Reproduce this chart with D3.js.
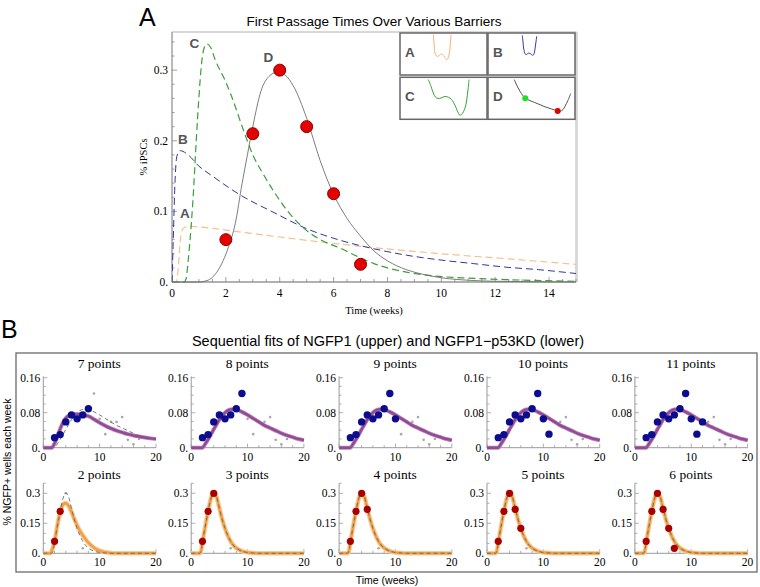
<!DOCTYPE html>
<html><head><meta charset="utf-8">
<script src="https://cdn.jsdelivr.net/npm/d3@7"></script>
<style>body{margin:0;background:#fff} svg{display:block}</style>
</head><body><svg id="c" width="760" height="587"></svg>
<script>
// ---------- Panel A data: first passage time densities [week, fraction] ----------
const curveA = [[0,0],[0.15,0],[0.22,0.015],[0.28,0.045],[0.33,0.066],[0.42,0.076],[0.6,0.079],[1.0,0.078],[2.5,0.071],[5,0.059],[7.5,0.0486],[10,0.040],[12.4,0.033],[15,0.025]];
const curveB = [[0,0],[0.04,0.05],[0.1,0.13],[0.18,0.178],[0.3,0.186],[0.6,0.18],[1.0,0.164],[1.5,0.15],[2.5,0.124],[3.75,0.099],[5,0.0755],[6.25,0.059],[7.5,0.047],[8.7,0.038],[10,0.031],[11.2,0.026],[12.4,0.021],[13.6,0.0175],[15,0.012]];
const curveC = [[0,0],[0.45,0],[0.52,0.004],[0.6,0.03],[0.68,0.064],[0.8,0.13],[0.9,0.2],[1.0,0.262],[1.1,0.31],[1.2,0.332],[1.3,0.337],[1.45,0.331],[1.6,0.315],[2.0,0.283],[2.2,0.264],[2.7,0.21],[3.0,0.18],[3.4,0.152],[3.8,0.127],[4.3,0.1],[4.9,0.076],[5.5,0.06],[6.3,0.047],[7.0,0.034],[7.5,0.026],[8.0,0.02],[8.7,0.014],[9.9,0.008],[11,0.0055],[12.4,0.0034],[15,0.001]];
const curveD = [[0,0],[1.0,0],[1.3,0.002],[1.7,0.016],[2.1,0.05],[2.35,0.083],[2.6,0.139],[2.8,0.18],[3.0,0.22],[3.3,0.27],[3.6,0.291],[3.9,0.297],[4.2,0.293],[4.5,0.278],[5.0,0.232],[5.5,0.172],[6.0,0.124],[6.5,0.09],[7.0,0.065],[7.5,0.044],[8.0,0.03],[8.7,0.0175],[9.3,0.011],[10,0.006],[11,0.0025],[12,0.001],[15,0]];
const redWeeks = [2,3,4,5,6,7];
const redValues = [0.06,0.21,0.30,0.22,0.125,0.025];
const xTicksA = [0,2,4,6,8,10,12,14];
const yTicksA = [0,0.1,0.2,0.3];
const yTickLabelsA = ["0.","0.1","0.2","0.3"];
const curveLabels = ["A","B","C","D"];
const curveLabelPos = [[0.3,0.090],[0.22,0.196],[0.65,0.332],[3.4,0.312]];

// inset potential sketches: [position, energy] in box units (87 x 42)
const insetA = [[33.3,40.3],[34.2,30],[35,22],[36.3,19.2],[37.7,18.7],[39.7,19.8],[41.7,21],[43.8,19.2],[45.4,16.4],[46.7,15.3],[48,16.8],[49.2,21],[50,27],[50.6,34],[51,40.3]];
const insetB = [[34.3,39.7],[35,33],[35.6,27],[36.3,23.7],[37.2,21],[38.2,20.3],[39.5,21.3],[41,22],[42.8,21],[44.3,19.8],[45.5,20.2],[46.5,23],[47.4,29],[48.1,34],[48.7,38.7]];
const insetC = [[28.3,39.7],[31,33],[33.3,26.3],[35.5,22.2],[38,20.8],[41,21.3],[45,22.8],[48.5,22],[51.7,19.7],[55,14],[58,7],[60,4],[62.5,6],[64.5,10],[66,15],[67.3,24],[68.3,32],[69,39.7]];
const insetD = [[26.3,39.7],[29,33.5],[32,28],[35,23.5],[37.3,21],[43,18.3],[50.3,15.3],[57,12.5],[63.7,10.3],[69.7,8.3],[72,8],[75,9.7],[77,13],[80,19],[82.7,25.7]];
const insetDots = [[37.3,21],[69.7,8.3]];

// ---------- Panel B data ----------
const weeksNGFP1 = [2,3,4,5,6,7,8,9,10,11,12,13,14,15,16,17];
const valuesNGFP1 = [0.023,0.030,0.059,0.075,0.066,0.075,0.089,0.124,0.066,0.031,0.059,0.059,0.070,0.018,0.008,0.020];
const weeksP53 = [2,3,4,5,6,7];
const valuesP53 = [0.06,0.21,0.30,0.22,0.125,0.025];
const countsUpper = [7,8,9,10,11];
const countsLower = [2,3,4,5,6];
const fitNGFP1Full = [[0,0],[2,0],[2.5,0.009],[3,0.019],[3.5,0.03],[4,0.042],[4.5,0.053],[5,0.064],[5.5,0.073],[6,0.080],[6.5,0.085],[7,0.0875],[7.5,0.088],[8,0.0872],[9,0.082],[10,0.075],[11,0.067],[12,0.059],[13,0.051],[14,0.045],[15,0.039],[16,0.033],[17,0.028],[18,0.024],[19,0.02],[20,0.017]];
const fitNGFP1Seven = [[0,0],[1.5,0],[2,0.01],[2.5,0.026],[3,0.043],[3.5,0.058],[4,0.068],[4.5,0.073],[5,0.0755],[6,0.0768],[7,0.0755],[8,0.072],[9,0.065],[10,0.057],[11,0.05],[12,0.044],[13,0.039],[14,0.035],[15,0.031],[16,0.028],[17,0.0255],[18,0.0233],[19,0.0213],[20,0.0197]];
const fitP53Full = [[0,0],[1.5,0],[1.8,0.018],[2,0.055],[2.5,0.135],[3,0.21],[3.5,0.275],[4,0.302],[4.5,0.282],[5,0.225],[5.5,0.17],[6,0.125],[6.5,0.088],[7,0.06],[7.5,0.04],[8,0.026],[9,0.011],[10,0.004],[11,0.0015],[12,0],[20,0]];
const fitP53Two = [[0,0],[1.2,0],[1.6,0.02],[2,0.06],[2.5,0.14],[3,0.207],[3.5,0.243],[3.9,0.251],[4.5,0.237],[5,0.207],[5.5,0.172],[6,0.14],[6.5,0.112],[7,0.09],[7.5,0.07],[8,0.053],[9,0.028],[10,0.013],[11,0.005],[12,0.0015],[13,0],[20,0]];
const xTicksB = [0,10,20];
const yTicksUpper = [0,0.08,0.16];
const yLabelsUpper = ["0.","0.08","0.16"];
const yTicksLower = [0,0.15,0.3];
const yLabelsLower = ["0.","0.15","0.3"];

const svg = d3.select('#c');
const serif = '"Liberation Serif","Times New Roman",serif';
const sans = '"Liberation Sans",Arial,Helvetica,sans-serif';
const line = (sx, sy, c) => d3.line().x(d=>sx(d[0])).y(d=>sy(d[1])).curve(c || d3.curveMonotoneX);

// ================= PANEL A =================
svg.append('text').attr('x',139).attr('y',26).attr('font-family',sans).attr('font-size',25).text('A');
svg.append('text').attr('x',374).attr('y',26).attr('text-anchor','middle').attr('font-family',sans).attr('font-size',13.5).text('First Passage Times Over Various Barriers');

const xA = d3.scaleLinear().domain([0,15]).range([172,576]);
const yA = d3.scaleLinear().domain([0,0.354]).range([282,32]);
const gA = svg.append('g');
gA.append('rect').attr('x',xA(0)).attr('y',yA(0.354)).attr('width',xA(15)-xA(0)).attr('height',yA(0)-yA(0.354)).attr('fill','none').attr('stroke','#b4b4b4').attr('stroke-width',1);
gA.append('line').attr('x1',xA(15)+1).attr('x2',xA(15)+1).attr('y1',yA(0.354)).attr('y2',yA(0)).attr('stroke','#d8d8d8').attr('stroke-width',2);
// axes
gA.append('line').attr('x1',xA(0)).attr('x2',xA(15)).attr('y1',yA(0)).attr('y2',yA(0)).attr('stroke','#888');
gA.append('line').attr('x1',xA(0)).attr('x2',xA(0)).attr('y1',yA(0)).attr('y2',yA(0.354)).attr('stroke','#999');
d3.range(0,15.01,0.5).forEach(t=>{
  const major = xTicksA.includes(t);
  gA.append('line').attr('x1',xA(t)).attr('x2',xA(t)).attr('y1',yA(0)).attr('y2',yA(0)-(major?5:3)).attr('stroke','#888').attr('stroke-width',0.8);
});
d3.range(0,0.351,0.02).forEach(v=>{
  const major = yTicksA.some(m=>Math.abs(m-v)<1e-6);
  gA.append('line').attr('x1',xA(0)).attr('x2',xA(0)+(major?5:2.5)).attr('y1',yA(v)).attr('y2',yA(v)).attr('stroke','#888').attr('stroke-width',0.8);
});
xTicksA.forEach(t=>gA.append('text').attr('x',xA(t)).attr('y',yA(0)+15).attr('text-anchor','middle').attr('font-family',serif).attr('font-size',11.5).text(t));
yTicksA.forEach((v,i)=>gA.append('text').attr('x',xA(0)-4).attr('y',yA(v)+4).attr('text-anchor','end').attr('font-family',serif).attr('font-size',11.5).text(yTickLabelsA[i]));
svg.append('text').attr('x',374).attr('y',314).attr('text-anchor','middle').attr('font-family',serif).attr('font-size',10.5).text('Time (weeks)');
svg.append('text').attr('transform','translate(147,157) rotate(-90)').attr('text-anchor','middle').attr('font-family',serif).attr('font-size',10.5).text('% iPSCs');

// curves
const clipA = svg.append('clipPath').attr('id','clipA').append('rect').attr('x',xA(0)).attr('y',yA(0.354)).attr('width',xA(15)-xA(0)).attr('height',yA(0)-yA(0.354)+1);
const cg = gA.append('g').attr('clip-path','url(#clipA)');
cg.append('path').attr('d',line(xA,yA)(curveA)).attr('fill','none').attr('stroke','#f5c08c').attr('stroke-width',1.2).attr('stroke-dasharray','7,4');
cg.append('path').attr('d',line(xA,yA)(curveB)).attr('fill','none').attr('stroke','#35359a').attr('stroke-width',1).attr('stroke-dasharray','7,4');
cg.append('path').attr('d',line(xA,yA)(curveC)).attr('fill','none').attr('stroke','#3a9e3a').attr('stroke-width',1.2).attr('stroke-dasharray','7,4');
cg.append('path').attr('d',line(xA,yA)(curveD)).attr('fill','none').attr('stroke','#6e6e6e').attr('stroke-width',0.9);
redWeeks.forEach((w,i)=>gA.append('circle').attr('cx',xA(w)).attr('cy',yA(redValues[i])).attr('r',6).attr('fill','#e60000').attr('stroke','#8a0000').attr('stroke-width',1));
curveLabels.forEach((l,i)=>gA.append('text').attr('x',xA(curveLabelPos[i][0])).attr('y',yA(curveLabelPos[i][1])).attr('font-family',sans).attr('font-weight','bold').attr('font-size',13.5).attr('fill','#555').text(l));

// insets
const insetBoxes = [
  {x:400,y:33,label:'A',data:insetA,color:'#f2b27a'},
  {x:488,y:33,label:'B',data:insetB,color:'#3a3aa0'},
  {x:400,y:77.3,label:'C',data:insetC,color:'#3aa03a'},
  {x:488,y:77.3,label:'D',data:insetD,color:'#555'}
];
insetBoxes.forEach(b=>{
  const g = svg.append('g');
  g.append('rect').attr('x',b.x).attr('y',b.y).attr('width',87).attr('height',42).attr('fill','#fff').attr('stroke','#666').attr('stroke-width',1.5);
  g.append('text').attr('x',b.x+5).attr('y',b.y+23.5).attr('font-family',sans).attr('font-weight','bold').attr('font-size',13.5).attr('fill','#555').text(b.label);
  const sx = d3.scaleLinear().domain([0,87]).range([b.x,b.x+87]);
  const sy = d3.scaleLinear().domain([0,42]).range([b.y+42,b.y]);
  g.append('path').attr('d',line(sx,sy,d3.curveCatmullRom)(b.data)).attr('fill','none').attr('stroke',b.color).attr('stroke-width',1);
  if(b.label==='D'){
    g.append('circle').attr('cx',sx(insetDots[0][0])).attr('cy',sy(insetDots[0][1])).attr('r',3).attr('fill','#22dd22');
    g.append('circle').attr('cx',sx(insetDots[1][0])).attr('cy',sy(insetDots[1][1])).attr('r',3).attr('fill','#e00000');
  }
});

// ================= PANEL B =================
svg.append('text').attr('x',1).attr('y',338).attr('font-family',sans).attr('font-size',25).text('B');
svg.append('text').attr('x',388).attr('y',346).attr('text-anchor','middle').attr('font-family',sans).attr('font-size',14.5).text('Sequential fits of NGFP1 (upper) and NGFP1\u2212p53KD (lower)');
svg.append('rect').attr('x',16).attr('y',353).attr('width',741).attr('height',219).attr('fill','none').attr('stroke','#6a6a6a').attr('stroke-width',1.3);
svg.append('text').attr('transform','translate(11,462) rotate(-90)').attr('text-anchor','middle').attr('font-family',sans).attr('font-size',10.5).text('% NGFP+ wells each week');
svg.append('text').attr('x',387).attr('y',584).attr('text-anchor','middle').attr('font-family',sans).attr('font-size',10.5).text('Time (weeks)');

const colX0 = d3.range(5).map(i=>43.3+i*147.9);
function subplot(x0, y0, yMax, yH, yTicks, yLabels, yMinorStep, title, titleY){
  const sx = d3.scaleLinear().domain([0,20]).range([x0,x0+112.7]);
  const sy = d3.scaleLinear().domain([0,yMax]).range([y0,y0-yH]);
  const g = svg.append('g');
  g.append('text').attr('x',x0+56).attr('y',titleY).attr('text-anchor','middle').attr('font-family',serif).attr('font-size',13.5).text(title);
  g.append('line').attr('x1',sx(0)).attr('x2',sx(20)).attr('y1',sy(0)).attr('y2',sy(0)).attr('stroke','#999');
  g.append('line').attr('x1',sx(0)).attr('x2',sx(0)).attr('y1',sy(0)).attr('y2',sy(yMax)).attr('stroke','#999');
  d3.range(0,20.01,2).forEach(t=>{
    const major = xTicksB.includes(t);
    g.append('line').attr('x1',sx(t)).attr('x2',sx(t)).attr('y1',sy(0)).attr('y2',sy(0)-(major?4:2.5)).attr('stroke','#999').attr('stroke-width',0.8);
  });
  d3.range(0,yMax+1e-9,yMinorStep).forEach(v=>{
    const major = yTicks.some(m=>Math.abs(m-v)<1e-6);
    g.append('line').attr('x1',sx(0)).attr('x2',sx(0)+(major?4:2.5)).attr('y1',sy(v)).attr('y2',sy(v)).attr('stroke','#999').attr('stroke-width',0.8);
  });
  xTicksB.forEach(t=>g.append('text').attr('x',sx(t)).attr('y',sy(0)+13).attr('text-anchor','middle').attr('font-family',serif).attr('font-size',11.5).text(t));
  yTicks.forEach((v,i)=>g.append('text').attr('x',sx(0)-3).attr('y',sy(v)+4).attr('text-anchor','end').attr('font-family',serif).attr('font-size',11.5).text(yLabels[i]));
  return {g,sx,sy};
}

countsUpper.forEach((n,i)=>{
  const {g,sx,sy} = subplot(colX0[i],447.7,0.163,71.3,yTicksUpper,yLabelsUpper,0.02,n+' points',368);
  weeksNGFP1.forEach((w,j)=>{ if(j>=n) g.append('circle').attr('cx',sx(w)).attr('cy',sy(valuesNGFP1[j])).attr('r',1.3).attr('fill','#a8a8a8'); });
  g.append('path').attr('d',line(sx,sy)(fitNGFP1Full)).attr('fill','none').attr('stroke','#666').attr('stroke-width',0.9).attr('stroke-dasharray','4,3');
  const fit = n===7 ? fitNGFP1Seven : fitNGFP1Full;
  g.append('path').attr('d',line(sx,sy)(fit)).attr('fill','none').attr('stroke','#b785b9').attr('stroke-width',4);
  g.append('path').attr('d',line(sx,sy)(fit)).attr('fill','none').attr('stroke','#944996').attr('stroke-width',2.4);
  weeksNGFP1.forEach((w,j)=>{ if(j<n) g.append('circle').attr('cx',sx(w)).attr('cy',sy(valuesNGFP1[j])).attr('r',3.7).attr('fill','#0c0c8e'); });
});

countsLower.forEach((n,i)=>{
  const {g,sx,sy} = subplot(colX0[i],553.3,0.35,70,yTicksLower,yLabelsLower,0.05,n+' points',479);
  weeksP53.forEach((w,j)=>{ if(j>=n) g.append('circle').attr('cx',sx(w)).attr('cy',sy(valuesP53[j])).attr('r',1.3).attr('fill','#a8a8a8'); });
  const fit = n===2 ? fitP53Two : fitP53Full;
  g.append('path').attr('d',line(sx,sy)(fit)).attr('fill','none').attr('stroke','#f9cd98').attr('stroke-width',4.6);
  g.append('path').attr('d',line(sx,sy)(fit)).attr('fill','none').attr('stroke','#f2a045').attr('stroke-width',2.6);
  g.append('path').attr('d',line(sx,sy)(fitP53Full)).attr('fill','none').attr('stroke','#666').attr('stroke-width',0.9).attr('stroke-dasharray','4,3');
  weeksP53.forEach((w,j)=>{ if(j<n) g.append('circle').attr('cx',sx(w)).attr('cy',sy(valuesP53[j])).attr('r',3.6).attr('fill','#a80000'); });
});
</script></body></html>
